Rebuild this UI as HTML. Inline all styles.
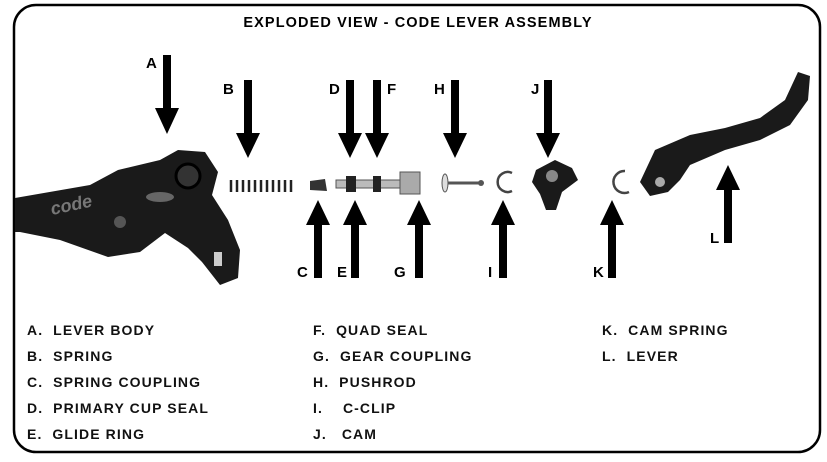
<!DOCTYPE html>
<html><head><style>
html,body{margin:0;padding:0;background:#fff;}
body{width:827px;height:462px;position:relative;overflow:hidden;font-family:"Liberation Sans",Arial,sans-serif;}
.lg{position:absolute;font-size:14px;font-weight:bold;color:#111;letter-spacing:1.1px;white-space:nowrap}
</style></head><body>
<svg width="827" height="462" style="position:absolute;left:0;top:0" font-family="Liberation Sans, Arial, sans-serif" font-weight="bold">
<rect x="14" y="5" width="806" height="447" rx="22" fill="none" stroke="#000" stroke-width="2.5"/>
<text x="418" y="27" text-anchor="middle" font-size="14.5" letter-spacing="1.1">EXPLODED VIEW - CODE LEVER ASSEMBLY</text>
<!-- lever body -->
<path d="M15 198 L90 185 L118 170 L160 160 L178 150 L205 152 L218 172 L212 195 L228 220 L240 250 L238 278 L220 285 L202 262 L188 248 L165 233 L140 252 L108 257 L60 240 L20 232 L15 232 Z" fill="#1a1a1a"/>
<circle cx="188" cy="176" r="12" fill="#333" stroke="#000" stroke-width="3"/>
<ellipse cx="160" cy="197" rx="14" ry="5" fill="#666"/>
<circle cx="120" cy="222" r="6" fill="#555"/>
<rect x="214" y="252" width="8" height="14" fill="#ccc"/>
<text x="52" y="215" font-size="18" fill="#777" font-style="italic" transform="rotate(-12 52 215)">code</text>
<!-- spring -->
<g stroke="#222" stroke-width="2.5">
<line x1="231" y1="180" x2="231" y2="192"/><line x1="237" y1="180" x2="237" y2="192"/><line x1="243" y1="180" x2="243" y2="192"/><line x1="249" y1="180" x2="249" y2="192"/><line x1="255" y1="180" x2="255" y2="192"/><line x1="261" y1="180" x2="261" y2="192"/><line x1="267" y1="180" x2="267" y2="192"/><line x1="273" y1="180" x2="273" y2="192"/><line x1="279" y1="180" x2="279" y2="192"/><line x1="285" y1="180" x2="285" y2="192"/><line x1="291" y1="180" x2="291" y2="192"/>
</g>
<path d="M310 181 L325 179 L327 191 L310 190 Z" fill="#333"/>
<rect x="336" y="180" width="70" height="8" fill="#bbb" stroke="#555"/>
<rect x="346" y="176" width="10" height="16" fill="#222"/>
<rect x="373" y="176" width="8" height="16" fill="#222"/>
<rect x="400" y="172" width="20" height="22" fill="#aaa" stroke="#555"/>
<line x1="445" y1="183" x2="480" y2="183" stroke="#555" stroke-width="3"/>
<ellipse cx="445" cy="183" rx="3" ry="9" fill="#ddd" stroke="#555"/>
<circle cx="481" cy="183" r="3" fill="#555"/>
<path d="M512 173 A10 10 0 1 0 512 191" fill="none" stroke="#444" stroke-width="2.5"/>
<path d="M625 171 A11 11 0 1 0 629 192" fill="none" stroke="#444" stroke-width="2.5"/>
<path d="M536 170 L555 160 L572 168 L578 180 L562 192 L556 210 L546 210 L540 194 L532 182 Z" fill="#1a1a1a"/>
<circle cx="552" cy="176" r="6" fill="#888"/>
<path d="M640 182 L655 150 L690 135 L725 128 L760 118 L785 100 L798 72 L810 76 L808 100 L790 125 L760 140 L725 150 L690 165 L680 180 L668 192 L650 196 Z" fill="#1a1a1a"/>
<circle cx="660" cy="182" r="5" fill="#aaa"/>
<g fill="#000">
<rect x="163" y="55" width="8" height="55"/><polygon points="155,108 179,108 167,134"/>
<rect x="244" y="80" width="8" height="55"/><polygon points="236,133 260,133 248,158"/>
<rect x="346" y="80" width="8" height="55"/><polygon points="338,133 362,133 350,158"/>
<rect x="373" y="80" width="8" height="55"/><polygon points="365,133 389,133 377,158"/>
<rect x="451" y="80" width="8" height="55"/><polygon points="443,133 467,133 455,158"/>
<rect x="544" y="80" width="8" height="55"/><polygon points="536,133 560,133 548,158"/>
<polygon points="306,225 330,225 318,200"/><rect x="314" y="223" width="8" height="55"/>
<polygon points="343,225 367,225 355,200"/><rect x="351" y="223" width="8" height="55"/>
<polygon points="407,225 431,225 419,200"/><rect x="415" y="223" width="8" height="55"/>
<polygon points="491,225 515,225 503,200"/><rect x="499" y="223" width="8" height="55"/>
<polygon points="600,225 624,225 612,200"/><rect x="608" y="223" width="8" height="55"/>
<polygon points="716,190 740,190 728,165"/><rect x="724" y="188" width="8" height="55"/>
</g>
<g font-size="15">
<text x="146" y="68">A</text><text x="223" y="94">B</text><text x="329" y="94">D</text><text x="387" y="94">F</text><text x="434" y="94">H</text><text x="531" y="94">J</text>
<text x="297" y="277">C</text><text x="337" y="277">E</text><text x="394" y="277">G</text><text x="488" y="277">I</text><text x="593" y="277">K</text><text x="710" y="243">L</text>
</g>
</svg>
<div class="lg" style="left:27px;top:322px">A.&nbsp; LEVER BODY</div>
<div class="lg" style="left:27px;top:348px">B.&nbsp; SPRING</div>
<div class="lg" style="left:27px;top:374px">C.&nbsp; SPRING COUPLING</div>
<div class="lg" style="left:27px;top:400px">D.&nbsp; PRIMARY CUP SEAL</div>
<div class="lg" style="left:27px;top:426px">E.&nbsp; GLIDE RING</div>
<div class="lg" style="left:313px;top:322px">F.&nbsp; QUAD SEAL</div>
<div class="lg" style="left:313px;top:348px">G.&nbsp; GEAR COUPLING</div>
<div class="lg" style="left:313px;top:374px">H.&nbsp; PUSHROD</div>
<div class="lg" style="left:313px;top:400px">I.&nbsp;&nbsp;&nbsp; C-CLIP</div>
<div class="lg" style="left:313px;top:426px">J.&nbsp;&nbsp; CAM</div>
<div class="lg" style="left:602px;top:322px">K.&nbsp; CAM SPRING</div>
<div class="lg" style="left:602px;top:348px">L.&nbsp; LEVER</div>
</body></html>
